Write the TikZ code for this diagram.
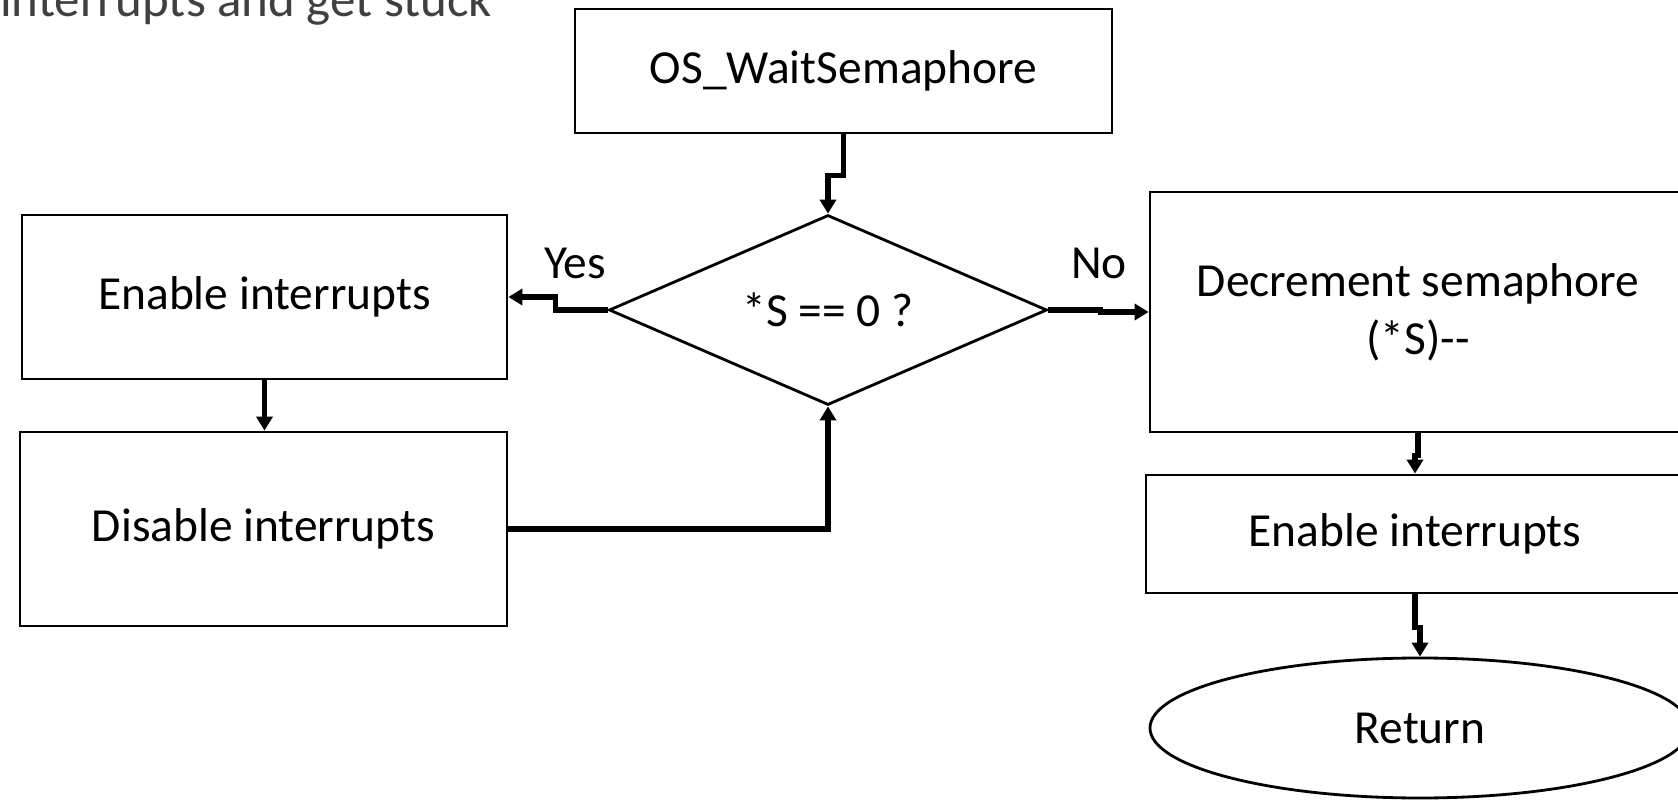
\documentclass[tikz,border=0pt]{standalone}
\usepackage{fontspec}
\setmainfont{Carlito}
\usetikzlibrary{arrows.meta,shapes.geometric}

\definecolor{slidegray}{HTML}{404040}

\tikzset{
  box/.style={draw,line width=1.6pt,align=center,minimum width=#1},
  flow/.style={line width=3pt,-{Triangle[length=0.28cm,width=0.32cm]}},
}

\begin{document}
\begin{tikzpicture}[font=\fontsize{27}{33}\selectfont]

\useasboundingbox (0,0) rectangle (33.56,15.98);
\clip (0,0) rectangle (33.56,15.98);

% bit of slide text above
\node[anchor=base west,text=slidegray,font=\fontsize{29}{35}\selectfont] (note) at (-0.12,15.64) {interrupts and get stuck};

\node[box=10.74cm,minimum height=2.48cm] (os) at (16.87,14.56) {OS\_WaitSemaphore};
\node[box=8.76cm,diamond,aspect=2.3,inner sep=0pt,minimum height=3.8cm] (test) at (16.56,9.78) {*S == 0 ?};

% left branch
\node[box=9.7cm,minimum height=3.28cm] (enleft) at (5.29,10.04) {Enable interrupts};
\node[box=9.74cm,minimum height=3.88cm] (disable) at (5.27,5.40) {Disable interrupts};

% right branch
\node[box=10.72cm,minimum height=4.8cm] (decr) at (28.36,9.74) {Decrement semaphore\\(*S)-{}-};
\node[box=10.76cm,minimum height=2.36cm] (enright) at (28.30,5.30) {Enable interrupts};
\node[box=10.8cm,ellipse,minimum height=2.8cm] (ret) at (28.40,1.42) {Return};

\node (yes) at (11.5,10.72) {Yes};
\node (no) at (21.98,10.72) {No};

\draw[flow] (os.south) -- ++(0,-0.82) -| (test.north);
\draw[flow] (test.west) -- ++(-1.04,0) |- (enleft.east);
\draw[flow] (test.east) -- ++(1.04,0) |- (decr.west);
\draw[flow] (enleft.south) -- (enleft.south |- disable.north);
\draw[flow] (disable.east) -| (test.south);
\draw[flow] (decr.south) -- ++(0,-0.44) -| (enright.north);
\draw[flow] (enright.south) -- ++(0,-0.66) -| (ret.north);
\end{tikzpicture}
\end{document}
